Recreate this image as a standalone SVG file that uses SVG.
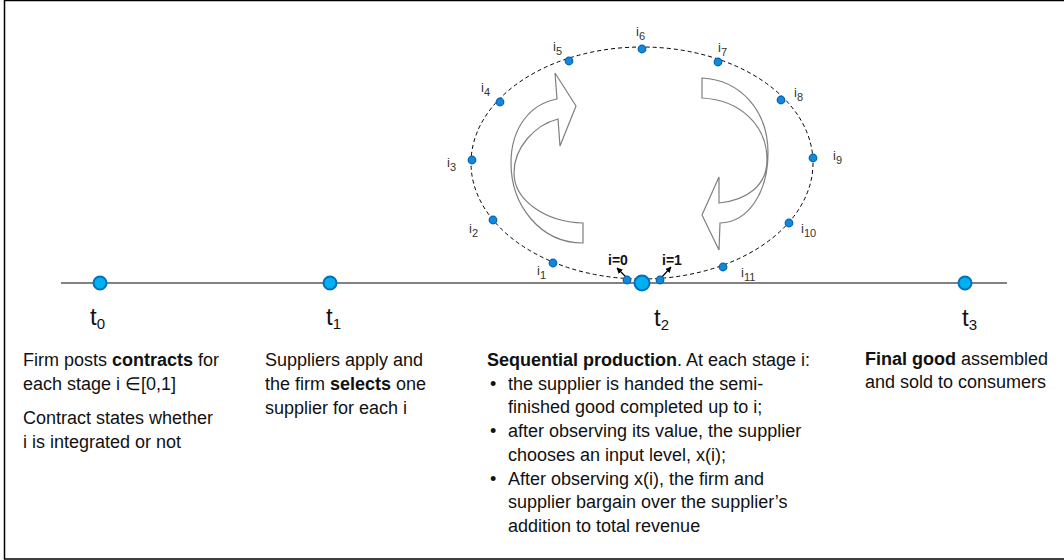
<svg xmlns="http://www.w3.org/2000/svg" width="1064" height="560" viewBox="0 0 1064 560">
<style>
text{font-family:"Liberation Sans",Arial,sans-serif;fill:#111}
.body{font-size:18px}
.b{font-weight:bold}
.tl{font-size:24px}
.ts{font-size:15px}
.il{font-size:13px;fill:#333}
.is{font-size:11px;fill:#333}
.big{fill:#00b0f0;stroke:#0070c0;stroke-width:2}
.sm{fill:#1288dc;stroke:#0062b0;stroke-width:1.2}
.blk{fill:#fff;stroke:#7f7f7f;stroke-width:1.2;stroke-linejoin:miter}
</style>
<defs>
<marker id="ah" viewBox="0 0 10 10" refX="9" refY="5" markerWidth="5" markerHeight="5" orient="auto">
<path d="M0,0 L10,5 L0,10 Z" fill="#000"/>
</marker>
</defs>
<rect x="4.5" y="0.5" width="1070" height="558.5" fill="#fff" stroke="#000" stroke-width="1.5"/>

<g id="connectors">
<line x1="61" y1="283" x2="1007" y2="283" stroke="#595959" stroke-width="1.5"/>
<ellipse cx="642" cy="163" rx="171" ry="116" fill="none" stroke="#000" stroke-width="1" stroke-dasharray="4,3"/>
<line x1="626" y1="277" x2="617" y2="268" stroke="#000" stroke-width="1.2" marker-end="url(#ah)"/>
<line x1="662" y1="277" x2="671" y2="267" stroke="#000" stroke-width="1.2" marker-end="url(#ah)"/>
</g>

<g id="cycle-arrows">
<path class="blk" d="M557,99 L555,73 L576,106 L560,146 L558,119 C535,125 514,147 514,173 C514,200 545,222 583,223 L583,243 C540,243 511,205 511,163 C511,128 530,104 557,99 Z"/>
<path class="blk" d="M702,78 L702,98 C740,100 767,125 767,160 C767,185 748,200 719,203 L719,177 L702,215 L719,250 L720,223 C750,222 768,190 768,153 C768,110 740,80 702,78 Z"/>
</g>

<g id="stages">
<circle class="sm" cx="553" cy="263" r="3.8"/>
<circle class="sm" cx="493" cy="220" r="3.8"/>
<circle class="sm" cx="472" cy="160" r="3.8"/>
<circle class="sm" cx="500" cy="102" r="3.8"/>
<circle class="sm" cx="569" cy="61" r="3.8"/>
<circle class="sm" cx="642" cy="49" r="3.8"/>
<circle class="sm" cx="718" cy="62" r="3.8"/>
<circle class="sm" cx="781" cy="100" r="3.8"/>
<circle class="sm" cx="813" cy="158" r="3.8"/>
<circle class="sm" cx="789" cy="223" r="3.8"/>
<circle class="sm" cx="723" cy="267" r="3.8"/>
<circle class="sm" cx="627" cy="280" r="3.8"/>
<circle class="sm" cx="660" cy="280" r="3.8"/>
<text class="il" x="537" y="275">i<tspan class="is" dy="4">1</tspan></text>
<text class="il" x="469" y="233">i<tspan class="is" dy="4">2</tspan></text>
<text class="il" x="447" y="167">i<tspan class="is" dy="4">3</tspan></text>
<text class="il" x="481" y="92">i<tspan class="is" dy="4">4</tspan></text>
<text class="il" x="553" y="51">i<tspan class="is" dy="4">5</tspan></text>
<text class="il" x="636" y="36">i<tspan class="is" dy="4">6</tspan></text>
<text class="il" x="718" y="52">i<tspan class="is" dy="4">7</tspan></text>
<text class="il" x="794" y="97">i<tspan class="is" dy="4">8</tspan></text>
<text class="il" x="833" y="160">i<tspan class="is" dy="4">9</tspan></text>
<text class="il" x="801" y="233">i<tspan class="is" dy="4">10</tspan></text>
<text class="il" x="741" y="277">i<tspan class="is" dy="4">11</tspan></text>
<text x="608" y="265" style="font-size:14px;font-weight:bold">i=0</text>
<text x="662" y="265" style="font-size:14px;font-weight:bold">i=1</text>
</g>

<g id="t0">
<circle class="big" cx="100" cy="283" r="6.5"/>
<text class="tl" x="90" y="325">t<tspan class="ts" dy="4">0</tspan></text>
<text class="body" x="23" y="366">Firm posts <tspan class="b">contracts</tspan> for</text>
<text class="body" x="23" y="390">each stage i ∈[0,1]</text>
<text class="body" x="23" y="424">Contract states whether</text>
<text class="body" x="23" y="448">i is integrated or not</text>
</g>

<g id="t1">
<circle class="big" cx="330" cy="283" r="6.5"/>
<text class="tl" x="326" y="325">t<tspan class="ts" dy="4">1</tspan></text>
<text class="body" x="265" y="366">Suppliers apply and</text>
<text class="body" x="265" y="390">the firm <tspan class="b">selects</tspan> one</text>
<text class="body" x="265" y="414">supplier for each i</text>
</g>

<g id="t2">
<circle class="big" cx="642" cy="283" r="7.5"/>
<text class="tl" x="654" y="326">t<tspan class="ts" dy="4">2</tspan></text>
<text class="body" x="487" y="366"><tspan class="b">Sequential production</tspan>. At each stage i:</text>
<text class="body" x="490" y="390">•</text>
<text class="body" x="508" y="390">the supplier is handed the semi-</text>
<text class="body" x="508" y="413">finished good completed up to i;</text>
<text class="body" x="490" y="437">•</text>
<text class="body" x="508" y="437">after observing its value, the supplier</text>
<text class="body" x="508" y="461">chooses an input level, x(i);</text>
<text class="body" x="490" y="485">•</text>
<text class="body" x="508" y="485">After observing x(i), the firm and</text>
<text class="body" x="508" y="508">supplier bargain over the supplier’s</text>
<text class="body" x="508" y="532">addition to total revenue</text>
</g>

<g id="t3">
<circle class="big" cx="965" cy="283" r="6.5"/>
<text class="tl" x="962" y="326">t<tspan class="ts" dy="4">3</tspan></text>
<text class="body" x="865" y="365"><tspan class="b">Final good</tspan> assembled</text>
<text class="body" x="865" y="388">and sold to consumers</text>
</g>
</svg>
